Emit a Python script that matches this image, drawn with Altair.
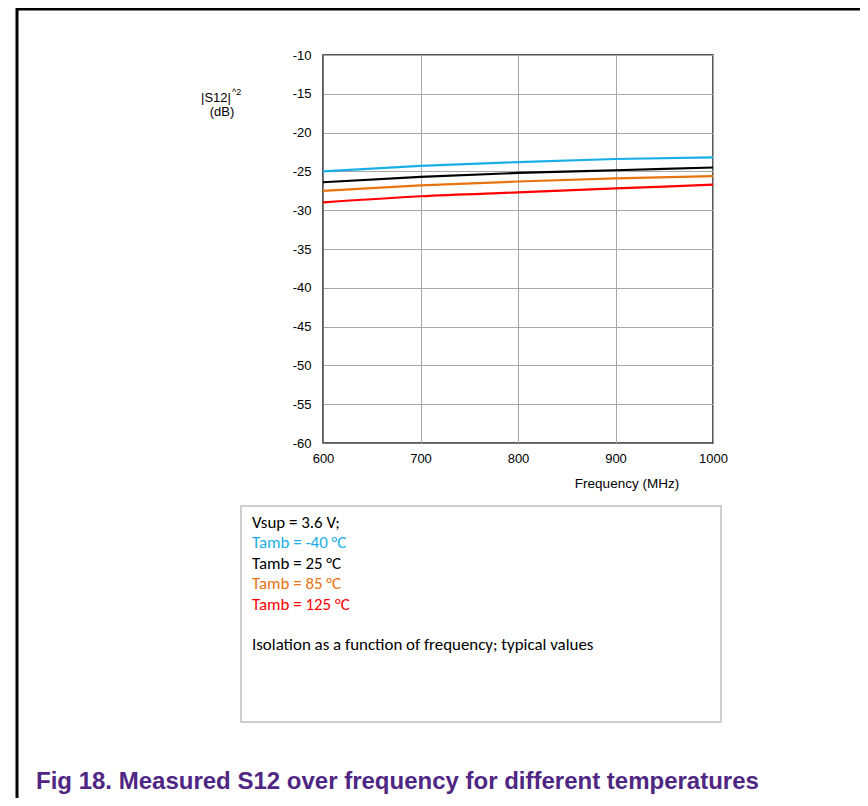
import altair as alt
import pandas as pd

# ---- data ----
freq = [600, 700, 800, 900, 1000]
s12_m40 = [-25.0, -24.3, -23.8, -23.4, -23.2]
s12_25 = [-26.4, -25.7, -25.2, -24.85, -24.5]
s12_85 = [-27.5, -26.8, -26.3, -25.9, -25.6]
s12_125 = [-29.0, -28.2, -27.7, -27.2, -26.7]

series_names = ["Tamb = -40 °C", "Tamb = 25 °C", "Tamb = 85 °C", "Tamb = 125 °C"]
series_colors = ["#1AAEE8", "#000000", "#E8730F", "#FF0000"]
x_ticks = [600, 700, 800, 900, 1000]
y_ticks = [-60, -55, -50, -45, -40, -35, -30, -25, -20, -15, -10]

legend_lines = ["Vsup = 3.6 V;"] + series_names + ["", "Isolation as a function of frequency; typical values"]
legend_colors = ["#000000"] + series_colors + ["#000000", "#000000"]
caption = "Fig 18. Measured S12 over frequency for different temperatures"

rows = []
for name, vals in zip(series_names, [s12_m40, s12_25, s12_85, s12_125]):
    for f, v in zip(freq, vals):
        rows.append({"freq": f, "s12": v, "series": name})
df = pd.DataFrame(rows)

W, H = 390, 388
AX_FONT = "Liberation Sans, Arial, sans-serif"
BOX_FONT = "Carlito, Lato, sans-serif"

lines = alt.Chart(df).mark_line(strokeWidth=2.2, interpolate="monotone").encode(
    x=alt.X("freq:Q", scale=alt.Scale(domain=[600, 1000], nice=False),
            axis=alt.Axis(values=x_ticks, title=None, ticks=False, labelPadding=9,
                          labelExpr="'' + datum.value",
                          labelFont=AX_FONT, labelFontSize=13, labelColor="#000",
                          gridColor="#a6a6a6", gridWidth=1, domainColor="#777",
                          labelFlush=False, labelOverlap=False)),
    y=alt.Y("s12:Q", scale=alt.Scale(domain=[-60, -10], nice=False, zero=False),
            axis=alt.Axis(values=y_ticks, title=None, ticks=False, labelPadding=12,
                          labelExpr="'' + datum.value",
                          labelFont=AX_FONT, labelFontSize=13, labelColor="#000",
                          gridColor="#a6a6a6", gridWidth=1, domainColor="#777",
                          labelFlush=False, labelOverlap=False)),
    color=alt.Color("series:N", scale=alt.Scale(domain=series_names, range=series_colors), legend=None),
    detail="series:N",
)

one = pd.DataFrame({"k": [0]})


def txt(text, x, y, size=12, color="#000", font=AX_FONT, align="center", weight="normal"):
    return alt.Chart(one).mark_text(
        text=text, font=font, fontSize=size, color=color, align=align,
        baseline="middle", fontWeight=weight
    ).encode(x=alt.value(x), y=alt.value(y))


layers = [lines]

# page frame (top and left black borders)
layers.append(alt.Chart(one).mark_rule(color="#000", strokeWidth=3).encode(
    x=alt.value(-306), x2=alt.value(W + 147), y=alt.value(-46)))
layers.append(alt.Chart(one).mark_rule(color="#000", strokeWidth=3).encode(
    x=alt.value(-306), y=alt.value(-47), y2=alt.value(H + 355)))

# y axis title
layers.append(txt("|S12|", -107, 43, size=13))
layers.append(txt("^2", -91, 37, size=9, align="left"))
layers.append(txt("(dB)", -101, 57, size=13))

# x axis title
layers.append(txt("Frequency (MHz)", 304, 429, size=13.5))

# annotation box
layers.append(alt.Chart(one).mark_rect(fill="white", stroke="#cfcfcf", strokeWidth=2).encode(
    x=alt.value(-82), x2=alt.value(398), y=alt.value(451), y2=alt.value(667)))
for i, (t, c) in enumerate(zip(legend_lines, legend_colors)):
    if t:
        layers.append(txt(t, -71, 468 + i * 20.4, size=16.9, color=c, font=BOX_FONT, align="left"))

# caption
layers.append(txt(caption, -287, 727, size=24, color="#4F2683", align="left", weight="bold"))

chart = alt.layer(*layers).properties(
    width=W, height=H,
    autosize=alt.AutoSizeParams(type="none"),
    padding={"left": 315, "top": 47, "right": 147, "bottom": 355},
).configure_view(stroke="#222", strokeWidth=1.5)

chart.save("out.html", embed_options={"renderer": "svg", "actions": False})
